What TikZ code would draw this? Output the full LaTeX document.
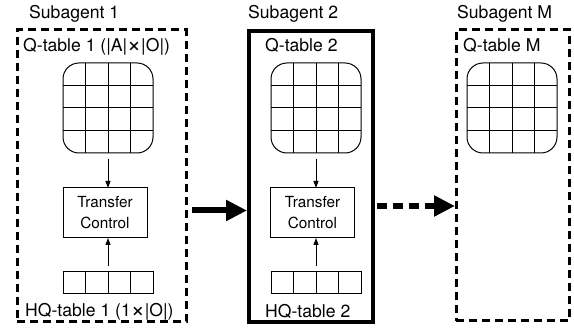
\documentclass[tikz,border=0pt]{standalone}
\usepackage{fontspec}
\setmainfont{TeX Gyre Heros}
\usetikzlibrary{arrows.meta}

\newcommand{\bigx}{{\fontsize{24}{21}\selectfont\raisebox{-0.5pt}{×}}}

\tikzset{
  dbox/.style={draw,line width=3pt,dash pattern=on 8pt off 5pt,outer sep=0pt},
  sbox/.style={draw,line width=4pt,outer sep=0pt},
  qgrid/.style={draw,line width=1pt,rounded corners=16pt,minimum width=90pt,minimum height=90pt,inner sep=0pt,outer sep=0pt},
  hqrow/.style={draw,line width=1pt,minimum width=90pt,minimum height=22pt,inner sep=0pt,outer sep=0pt},
  tcbox/.style={draw,line width=1pt,minimum width=84pt,minimum height=50pt,align=center,outer sep=0pt,
    font=\fontsize{15.3}{21}\selectfont},
  lbl/.style={anchor=base west,inner sep=0pt,font=\fontsize{17.6}{21}\selectfont},
  thinarrow/.style={line width=1pt,-{Triangle[length=7pt,width=5pt]}},
  bigarrow/.style={line width=6pt,-{Triangle[length=21pt,width=20pt]}}
}

\begin{document}
\begin{tikzpicture}[x=1pt,y=-1pt]
\useasboundingbox (0,0) rectangle (574,328);

% subagent boxes
\node[dbox,minimum width=169pt,minimum height=292pt] (sub1) at (101.5,176) {};
\node[sbox,minimum width=123.5pt,minimum height=291pt] (sub2) at (310.75,176.5) {};
\node[dbox,minimum width=113.5pt,minimum height=291pt] (subM) at (512.75,175.5) {};

\node[lbl] (t1) at (29,18.5) {Subagent 1};
\node[lbl] (t2) at (248,18.5) {Subagent 2};
\node[lbl] (tM) at (457,18.5) {Subagent M};

\node[lbl] (ql1) at (23,52) {Q-table 1 (|A|\bigx|O|)};
\node[lbl] (ql2) at (265,52) {Q-table 2};
\node[lbl] (qlM) at (463,52) {Q-table M};
\node[lbl] (hl1) at (25,317) {HQ-table 1 (1\bigx|O|)};
\node[lbl] (hl2) at (265,318) {HQ-table 2};

% Q-tables
\node[qgrid] (q1) at (108,108) {};
\node[qgrid] (q2) at (316,108) {};
\node[qgrid] (qM) at (512,108) {};
\foreach \cx in {108,316,512} {
  \foreach \d in {-22.5,0,22.5} {
    \draw[line width=1pt] (\cx+\d,63) -- (\cx+\d,153);
    \draw[line width=1pt] (\cx-45,108+\d) -- (\cx+45,108+\d);
  }
}

% HQ-tables
\node[hqrow] (hq1) at (108,283) {};
\node[hqrow] (hq2) at (316,283) {};
\foreach \cx in {108,316} {
  \foreach \d in {-22.5,0,22.5}
    \draw[line width=1pt] (\cx+\d,272) -- (\cx+\d,294);
}

% transfer control
\node[tcbox] (tc1) at (105,213) {Transfer\\Control};
\node[tcbox] (tc2) at (312.5,213) {Transfer\\Control};

\draw[thinarrow,shorten <=6pt] (q1.south) -- (q1.south |- tc1.north);
\draw[thinarrow,shorten <=6pt] (hq1.north) -- (hq1.north |- tc1.south);
\draw[thinarrow,shorten <=6pt] (q2.south) -- (q2.south |- tc2.north);
\draw[thinarrow,shorten <=6pt] (hq2.north) -- (hq2.north |- tc2.south);

% between subagents
\coordinate (lvl1) at (0,210.5);
\coordinate (lvl2) at (0,206);
\draw[bigarrow,shorten <=6pt,shorten >=2pt] (sub1.east |- lvl1) -- (sub2.west |- lvl1);
\draw[bigarrow,dash pattern=on 10pt off 6pt,shorten <=4.5pt,shorten >=1pt] (sub2.east |- lvl2) -- (subM.west |- lvl2);
\end{tikzpicture}
\end{document}
